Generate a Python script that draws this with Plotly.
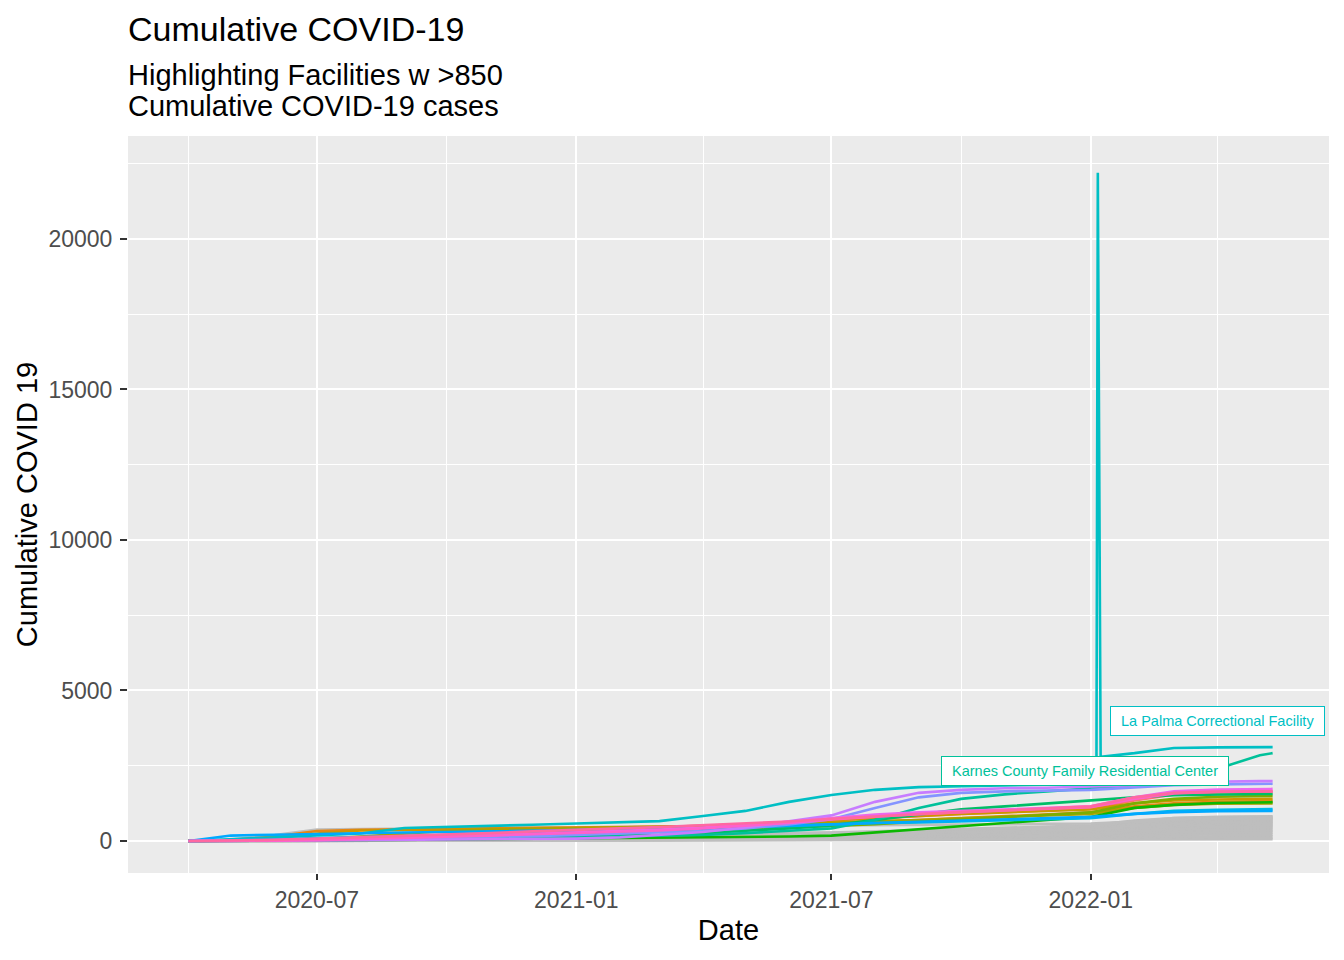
import plotly.graph_objects as go

##########################################
# 1. Data
##########################################
# monthly report dates shared by most facilities
dates = ["2020-04-01", "2020-05-01", "2020-06-01", "2020-07-01", "2020-08-01", "2020-09-01",
         "2020-10-01", "2020-11-01", "2020-12-01", "2021-01-01", "2021-02-01", "2021-03-01",
         "2021-04-01", "2021-05-01", "2021-06-01", "2021-07-01", "2021-08-01", "2021-09-01",
         "2021-10-01", "2021-11-01", "2021-12-01", "2022-01-01", "2022-02-01", "2022-03-01",
         "2022-04-01", "2022-05-01", "2022-05-10"]

# La Palma has its own dates because of the reporting spike in January 2022
la_palma_dates = ["2020-04-03", "2020-05-01", "2020-06-01", "2020-07-01", "2020-08-01", "2020-09-01",
                  "2020-10-01", "2020-11-01", "2020-12-01", "2021-01-01", "2021-02-01", "2021-03-01",
                  "2021-04-01", "2021-05-01", "2021-06-01", "2021-07-01", "2021-08-01", "2021-09-01",
                  "2021-10-01", "2021-11-01", "2021-12-01", "2022-01-05", "2022-01-06", "2022-01-07",
                  "2022-01-08", "2022-02-01", "2022-03-01", "2022-04-01", "2022-05-01", "2022-05-10"]
la_palma = [0, 60, 120, 180, 250, 430, 460, 500, 540, 580, 610, 660, 830, 1000, 1300, 1530,
            1700, 1790, 1820, 1850, 1880, 1900, 22200, 12200, 2800, 2920, 3090, 3110, 3120, 3120]

# highlighted facilities (>850 cumulative cases), alphabetical like the ggplot legend order
adelanto = [0, 10, 30, 60, 100, 140, 200, 260, 320, 380, 420, 460, 500, 540, 600, 680, 760, 840,
            900, 960, 1020, 1080, 1350, 1550, 1610, 1620, 1620]
bluebonnet = [0, 30, 150, 330, 370, 380, 400, 420, 440, 450, 460, 470, 490, 520, 560, 600, 650, 700,
              760, 820, 880, 950, 1150, 1250, 1300, 1330, 1330]
cibola = [0, 10, 80, 250, 350, 370, 390, 400, 410, 420, 430, 450, 480, 550, 620, 700, 780, 850,
          900, 950, 1000, 1050, 1250, 1350, 1380, 1400, 1400]
el_paso = [0, 0, 20, 60, 150, 250, 330, 380, 400, 420, 440, 460, 490, 520, 560, 600, 650, 700,
           750, 800, 850, 900, 1100, 1200, 1240, 1250, 1250]
eloy = [0, 10, 30, 50, 80, 120, 150, 180, 210, 240, 270, 300, 340, 390, 440, 500, 560, 640,
        720, 800, 870, 950, 1250, 1400, 1470, 1500, 1500]
houston = [0, 0, 10, 20, 30, 40, 50, 60, 70, 80, 90, 100, 110, 130, 150, 180, 280, 400,
           500, 600, 700, 800, 1100, 1200, 1260, 1290, 1290]
jena = [0, 0, 20, 40, 60, 80, 100, 120, 140, 160, 180, 200, 260, 330, 420, 520, 700, 900,
        1050, 1150, 1250, 1350, 1450, 1520, 1550, 1560, 1560]
karnes = [0, 0, 10, 30, 50, 60, 70, 80, 100, 120, 140, 160, 200, 260, 330, 420, 700, 1100,
          1400, 1550, 1650, 1750, 1850, 2000, 2400, 2850, 2920]
montgomery = [0, 20, 60, 100, 140, 170, 200, 230, 260, 290, 320, 360, 400, 450, 500, 550, 600, 620,
              650, 690, 720, 760, 900, 1000, 1040, 1060, 1060]
otay_mesa = [0, 180, 210, 240, 260, 280, 300, 320, 340, 360, 380, 400, 430, 470, 520, 560, 600, 640,
             680, 720, 760, 800, 900, 960, 990, 1000, 1000]
otero = [0, 0, 20, 40, 60, 80, 100, 130, 160, 200, 240, 280, 330, 420, 550, 720, 1100, 1450,
         1600, 1650, 1680, 1700, 1780, 1850, 1880, 1900, 1900]
port_isabel = [0, 0, 10, 20, 30, 40, 50, 60, 70, 80, 120, 200, 300, 450, 650, 850, 1300, 1600,
               1700, 1750, 1770, 1800, 1850, 1950, 1980, 1990, 1990]
prairieland = [0, 0, 30, 60, 90, 120, 160, 200, 240, 280, 320, 380, 450, 540, 640, 760, 880, 950,
               1000, 1050, 1100, 1150, 1450, 1650, 1710, 1730, 1730]
south_texas = [0, 0, 10, 30, 60, 100, 140, 180, 220, 260, 300, 350, 420, 500, 600, 720, 820, 900,
               960, 1020, 1080, 1120, 1400, 1580, 1640, 1660, 1660]
stewart = [0, 10, 40, 80, 120, 160, 210, 260, 320, 380, 420, 460, 520, 580, 650, 740, 820, 900,
           960, 1020, 1080, 1150, 1450, 1600, 1640, 1650, 1650]

# the other facilities (drawn in grey)
grey_1 = [0, 0, 5, 10, 20, 30, 40, 50, 60, 70, 80, 90, 100, 120, 140, 160, 200, 250, 300, 350, 400, 450, 650, 760, 800, 820, 820]
grey_2 = [0, 5, 10, 20, 40, 60, 80, 100, 120, 140, 160, 180, 200, 220, 250, 280, 320, 360, 400, 440, 480, 520, 680, 760, 790, 800, 800]
grey_3 = [0, 0, 0, 5, 10, 20, 30, 40, 50, 60, 80, 100, 120, 140, 160, 180, 220, 260, 300, 340, 380, 420, 600, 720, 760, 770, 770]
grey_4 = [0, 0, 10, 30, 50, 70, 90, 110, 130, 150, 170, 190, 210, 230, 250, 270, 300, 330, 360, 400, 440, 480, 620, 700, 730, 740, 740]
grey_5 = [0, 50, 200, 380, 400, 410, 420, 430, 440, 450, 460, 470, 480, 490, 500, 510, 520, 530, 540, 550, 560, 580, 650, 700, 720, 730, 730]
grey_6 = [0, 0, 0, 0, 5, 10, 20, 30, 40, 50, 60, 70, 80, 90, 100, 120, 150, 190, 230, 280, 330, 380, 560, 660, 690, 700, 700]
grey_7 = [0, 0, 5, 15, 30, 45, 60, 75, 90, 105, 120, 135, 150, 170, 190, 210, 240, 270, 300, 340, 380, 420, 540, 620, 650, 660, 660]
grey_8 = [0, 10, 20, 40, 60, 80, 100, 110, 120, 130, 140, 150, 160, 175, 190, 210, 230, 260, 290, 320, 360, 400, 520, 590, 620, 630, 630]
grey_9 = [0, 0, 0, 10, 20, 30, 40, 50, 60, 70, 80, 90, 100, 110, 120, 140, 170, 200, 240, 280, 320, 360, 480, 560, 590, 600, 600]
grey_10 = [0, 0, 10, 20, 30, 40, 50, 60, 70, 80, 90, 100, 110, 120, 130, 140, 160, 180, 210, 240, 270, 300, 430, 510, 550, 560, 560]
grey_11 = [0, 0, 0, 0, 10, 20, 30, 40, 50, 60, 70, 80, 90, 100, 110, 120, 140, 160, 180, 200, 230, 260, 400, 470, 510, 520, 520]
grey_12 = [0, 5, 15, 25, 35, 45, 55, 65, 75, 85, 95, 105, 115, 125, 135, 145, 160, 175, 190, 205, 220, 240, 360, 440, 470, 480, 480]
grey_13 = [0, 0, 0, 5, 10, 15, 20, 30, 40, 50, 60, 70, 80, 90, 100, 110, 120, 130, 150, 170, 190, 210, 320, 390, 420, 430, 430]
grey_14 = [0, 0, 5, 10, 20, 30, 40, 50, 60, 70, 75, 80, 85, 90, 95, 100, 110, 120, 130, 140, 150, 170, 270, 340, 370, 380, 380]
grey_15 = [0, 0, 0, 0, 0, 5, 10, 15, 20, 25, 30, 35, 40, 45, 50, 60, 70, 80, 90, 100, 110, 130, 230, 300, 320, 330, 330]
grey_16 = [0, 0, 0, 5, 10, 15, 20, 25, 30, 35, 40, 45, 50, 55, 60, 65, 70, 80, 90, 100, 110, 120, 190, 250, 270, 280, 280]
grey_17 = [0, 0, 0, 0, 5, 10, 15, 20, 25, 30, 35, 40, 45, 50, 55, 60, 65, 70, 75, 80, 90, 100, 150, 200, 215, 220, 220]
grey_18 = [0, 0, 0, 0, 0, 0, 5, 10, 15, 20, 25, 30, 35, 40, 45, 50, 55, 60, 65, 70, 75, 80, 110, 140, 155, 160, 160]
grey_19 = [0, 0, 0, 0, 0, 0, 0, 5, 10, 15, 20, 25, 30, 35, 40, 45, 50, 55, 60, 65, 70, 75, 85, 95, 100, 100, 100]
grey_20 = [0, 0, 0, 0, 0, 0, 0, 0, 5, 10, 15, 20, 25, 28, 30, 32, 35, 38, 40, 45, 50, 52, 55, 58, 60, 60, 60]

highlighted = [
    ("Adelanto ICE Processing Center", adelanto, "#F8766D"),
    ("Bluebonnet Detention Facility", bluebonnet, "#E68613"),
    ("Cibola County Correctional Center", cibola, "#CD9600"),
    ("El Paso Service Processing Center", el_paso, "#ABA300"),
    ("Eloy Federal Contract Facility", eloy, "#7CAE00"),
    ("Houston Contract Detention Facility", houston, "#0CB702"),
    ("Jena/LaSalle Detention Facility", jena, "#00BE67"),
    ("Karnes County Family Residential Center", karnes, "#00C19A"),
    ("La Palma Correctional Facility", la_palma, "#00BFC4"),
    ("Montgomery Processing Center", montgomery, "#00B8E7"),
    ("Otay Mesa Detention Center", otay_mesa, "#00A9FF"),
    ("Otero County Processing Center", otero, "#8494FF"),
    ("Port Isabel Service Processing Center", port_isabel, "#C77CFF"),
    ("Prairieland Detention Center", prairieland, "#ED68ED"),
    ("South Texas ICE Processing Center", south_texas, "#FF61CC"),
    ("Stewart Detention Center", stewart, "#FF68A1"),
]
greys = [grey_1, grey_2, grey_3, grey_4, grey_5, grey_6, grey_7, grey_8, grey_9, grey_10,
         grey_11, grey_12, grey_13, grey_14, grey_15, grey_16, grey_17, grey_18, grey_19, grey_20]

##########################################
# 2. Plot
##########################################
FONT = "Liberation Sans, Arial, sans-serif"
fig = go.Figure()

for g in greys:
    fig.add_trace(go.Scatter(x=dates, y=g, mode="lines",
                             line=dict(color="#BEBEBE", width=2.6), hoverinfo="skip"))

for name, vals, col in highlighted:
    xs = la_palma_dates if name.startswith("La Palma") else dates
    fig.add_trace(go.Scatter(x=xs, y=vals, mode="lines", name=name,
                             line=dict(color=col, width=2.6)))

# ggrepel-style labels
labels = [
    ("La Palma Correctional Facility", "2022-04-01", 3990, "#00BFC4"),
    ("Karnes County Family Residential Center", "2021-12-28", 2310, "#00C19A"),
]
for txt, lx, ly, col in labels:
    fig.add_annotation(x=lx, y=ly, text=" " + txt + " ", showarrow=False,
                       font=dict(family=FONT, size=14.5, color=col),
                       bgcolor="white", bordercolor=col, borderwidth=1, borderpad=6)

fig.add_annotation(text="Highlighting Facilities w >850", xref="paper", yref="paper",
                   x=0, y=1 + (136 - 75) / 737, xanchor="left", yanchor="middle", showarrow=False,
                   xshift=-2, font=dict(family=FONT, size=29, color="black"))
fig.add_annotation(text="Cumulative COVID-19 cases", xref="paper", yref="paper",
                   x=0, y=1 + (136 - 106) / 737, xanchor="left", yanchor="middle", showarrow=False,
                   xshift=-2, font=dict(family=FONT, size=29, color="black"))

fig.update_layout(
    width=1344, height=960,
    margin=dict(l=128, r=15, t=136, b=87),
    paper_bgcolor="white", plot_bgcolor="#EBEBEB",
    showlegend=False,
    font=dict(family=FONT),
    title=dict(text="Cumulative COVID-19", x=0, xref="paper", xanchor="left",
               y=1 - 29 / 960, yref="container", yanchor="middle",
               font=dict(family=FONT, size=34, color="black")),
)
fig.update_xaxes(
    range=["2020-02-18", "2022-06-19"], type="date",
    tick0="2020-01-01", dtick="M6", tickformat="%Y-%m",
    showgrid=True, gridcolor="white", gridwidth=2.2,
    minor=dict(dtick="M3", tick0="2020-01-01", showgrid=True, gridcolor="white", gridwidth=1.1),
    ticks="outside", ticklen=6, tickwidth=2, tickcolor="#333333",
    tickfont=dict(family=FONT, size=23, color="#4D4D4D"),
    title=dict(text="Date", font=dict(family=FONT, size=29, color="black"), standoff=8),
    zeroline=False, showline=False,
)
fig.update_yaxes(
    range=[-1063, 23420],
    tickvals=[0, 5000, 10000, 15000, 20000], tickformat="d",
    showgrid=True, gridcolor="white", gridwidth=2.2,
    minor=dict(tickvals=[2500, 7500, 12500, 17500, 22500], showgrid=True, gridcolor="white", gridwidth=1.1),
    ticks="outside", ticklen=7, tickwidth=2, tickcolor="#333333", ticklabelstandoff=3,
    tickfont=dict(family=FONT, size=23, color="#4D4D4D"),
    title=dict(text="Cumulative COVID 19", font=dict(family=FONT, size=29, color="black"), standoff=2),
    zeroline=False, showline=False,
)

# drop the browser's default page margin so the figure sits at (0, 0)
fig.write_html("out.html", config={"displayModeBar": False},
               post_script="document.body.style.margin='0';")
